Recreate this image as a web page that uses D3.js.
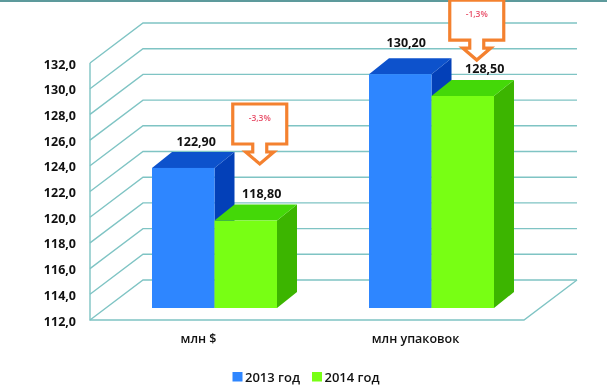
<!DOCTYPE html>
<html>
<head>
<meta charset="utf-8">
<script src="https://cdn.jsdelivr.net/npm/d3@7"></script>
<style>
  html, body { margin: 0; padding: 0; background: #fff; }
  svg { display: block; filter: blur(0.35px); }
  text { font-family: "Open Sans", sans-serif; font-weight: 700; fill: #111; }
</style>
</head>
<body>
<svg width="607" height="388"></svg>
<script>
// values
var categories = ["млн $", "млн упаковок"];
var seriesNames = ["2013 год", "2014 год"];
var values2013 = [122.9, 130.2];
var values2014 = [118.8, 128.5];
var valueLabels2013 = ["122,90", "130,20"];
var valueLabels2014 = ["118,80", "128,50"];
var changeLabels = ["-3,3%", "-1,3%"];
var changeLevels = [124.14, 132.23]; // where the callout tip points, on the value axis
var yTicks = d3.range(112, 133, 2);

var svg = d3.select("svg");

// layout of the fake 3d box
var wall = {dx: 53, dy: -40};
var barOff = {dx: 16, dy: -12};
var barDepth = {dx: 20, dy: -16};

var yScale = d3.scaleLinear().domain([112, 132]).range([320, 63]);
var xScale = d3.scaleBand().domain(categories).range([90, 524]);
var xInner = d3.scaleBand().domain(seriesNames).range([46, 171]);

var colors = {
  "2013 год": {front: "#2e86ff", top: "#0d52cc", side: "#0340b8", legend: "#2e86ff"},
  "2014 год": {front: "#78ff14", top: "#44d808", side: "#3cb500", legend: "#78ff14"}
};
var gridColor = "#7fc4c4";

svg.append("rect").attr("width", 607).attr("height", 2).attr("fill", "#5d9a9c");

// walls
var grid = svg.append("g").attr("fill", "none").attr("stroke", gridColor).attr("stroke-width", 1.4);
var x0 = xScale.range()[0], x1 = xScale.range()[1];
yTicks.forEach(function(t) {
  var y = yScale(t);
  grid.append("path").attr("d", d3.line()([
    [x0, y], [x0 + wall.dx, y + wall.dy], [x1 + wall.dx, y + wall.dy]
  ]));
});
grid.append("path").attr("d", d3.line()([
  [x0, yScale(132)], [x0, yScale(112)], [x1, yScale(112)], [x1 + wall.dx, yScale(112) + wall.dy]
]));

// y labels
var yAxis = d3.axisLeft(yScale).tickValues(yTicks)
  .tickSize(0).tickPadding(14)
  .tickFormat(function(d) { return d3.format(".1f")(d).replace(".", ","); });
var yG = svg.append("g").attr("transform", "translate(" + x0 + ",1)").call(yAxis);
yG.select(".domain").remove();
yG.selectAll("text").style("font-size", "12.5px").style("font-family", '"Open Sans", sans-serif');

// bars
var rows = [];
categories.forEach(function(c, i) {
  rows.push({cat: c, s: seriesNames[0], v: values2013[i], label: valueLabels2013[i]});
  rows.push({cat: c, s: seriesNames[1], v: values2014[i], label: valueLabels2014[i]});
});

function barBox(d) {
  var left = xScale(d.cat) + barOff.dx + xInner(d.s);
  var w = xInner.bandwidth();
  var top = yScale(d.v) + barOff.dy;
  var bottom = yScale(112) + barOff.dy;
  return {left: left, right: left + w, top: top, bottom: bottom};
}

var bars = svg.append("g").selectAll("g").data(rows).join("g");
bars.append("path").attr("fill", function(d) { return colors[d.s].side; })
  .attr("d", function(d) {
    var b = barBox(d);
    return d3.line()([[b.right, b.top], [b.right + barDepth.dx, b.top + barDepth.dy],
      [b.right + barDepth.dx, b.bottom + barDepth.dy], [b.right, b.bottom]]) + "Z";
  });
bars.append("path").attr("fill", function(d) { return colors[d.s].top; })
  .attr("d", function(d) {
    var b = barBox(d);
    return d3.line()([[b.left, b.top], [b.left + barDepth.dx, b.top + barDepth.dy],
      [b.right + barDepth.dx, b.top + barDepth.dy], [b.right, b.top]]) + "Z";
  });
bars.append("rect").attr("fill", function(d) { return colors[d.s].front; })
  .attr("x", function(d) { return barBox(d).left; })
  .attr("y", function(d) { return barBox(d).top; })
  .attr("width", xInner.bandwidth())
  .attr("height", function(d) { var b = barBox(d); return b.bottom - b.top; });

// value labels, nudged by hand like in the original
var nudges = [[13, -22], [16, -23], [6, -27], [22, -23]];
svg.append("g").selectAll("text").data(rows).join("text")
  .attr("text-anchor", "middle")
  .style("font-size", "12.5px")
  .attr("x", function(d, i) {
    var b = barBox(d);
    return (b.left + b.right) / 2 + nudges[i][0];
  })
  .attr("y", function(d, i) { return barBox(d).top + nudges[i][1]; })
  .text(function(d) { return d.label; });

// callouts
var callouts = svg.append("g").selectAll("g").data(categories).join("g")
  .attr("transform", function(c, i) {
    var green = barBox({cat: c, s: seriesNames[1], v: values2014[i]});
    return "translate(" + ((green.left + green.right) / 2 + 14) + "," + yScale(changeLevels[i]) + ")";
  });
callouts.append("path")
  .attr("fill", "#fff").attr("stroke", "#f4812f").attr("stroke-width", 3.2).attr("stroke-linejoin", "miter")
  .attr("d", d3.line()([
    [-27, -60], [27, -60], [27, -20], [7, -20], [7, -12], [14, -12], [0, 0],
    [-14, -12], [-7, -12], [-7, -20], [-27, -20]
  ]) + "Z");
callouts.append("text")
  .attr("text-anchor", "middle").attr("y", -43)
  .style("font-size", "8.5px").style("font-weight", 600).style("fill", "#e8506a")
  .text(function(c, i) { return changeLabels[i]; });

// category labels
svg.append("g").selectAll("text").data(categories).join("text")
  .attr("text-anchor", "middle")
  .style("font-size", "12.5px").style("font-weight", 600)
  .attr("x", function(c) { return xScale(c) + xScale.bandwidth() / 2; })
  .attr("y", 343)
  .text(function(c) { return c; });

// legend
var legendX = d3.scalePoint().domain(seriesNames).range([232.5, 312]);
var legend = svg.append("g").selectAll("g").data(seriesNames).join("g")
  .attr("transform", function(s) { return "translate(" + legendX(s) + ",372)"; });
legend.append("rect").attr("width", 10).attr("height", 9.5)
  .attr("fill", function(s) { return colors[s].legend; });
legend.append("text").attr("x", 12.5).attr("y", 9.5)
  .style("font-size", "13px").style("font-weight", 600)
  .text(function(s) { return s; });
</script>
</body>
</html>
